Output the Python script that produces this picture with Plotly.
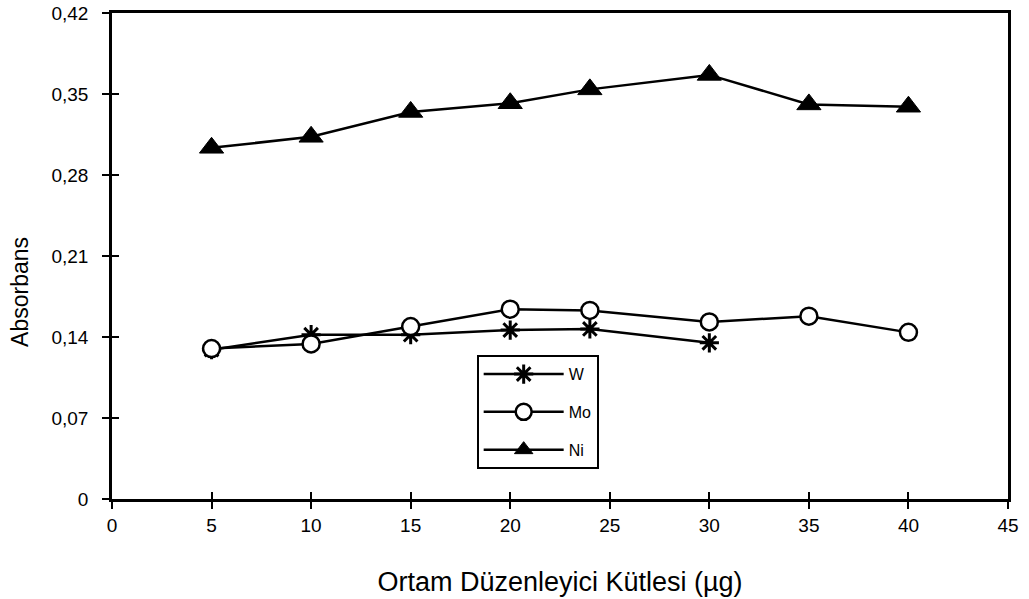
import plotly.graph_objects as go

x_all = [5, 10, 15, 20, 24, 30, 35, 40]
x_w = [5, 10, 15, 20, 24, 30]
w_vals = [0.129, 0.142, 0.142, 0.146, 0.147, 0.135]
mo_vals = [0.130, 0.134, 0.149, 0.164, 0.163, 0.153, 0.158, 0.144]
ni_vals = [0.3035, 0.313, 0.3345, 0.342, 0.354, 0.3665, 0.341, 0.339]

y_tickvals = [0, 0.07, 0.14, 0.21, 0.28, 0.35, 0.42]
y_ticktext = ["0", "0,07", "0,14", "0,21", "0,28", "0,35", "0,42"]
x_tickvals = [0, 5, 10, 15, 20, 25, 30, 35, 40, 45]

FONT = "Liberation Sans, Arial, sans-serif"

fig = go.Figure()
fig.add_trace(go.Scatter(
    x=x_w, y=w_vals, name="W", mode="lines+markers", legendgroup="a",
    line=dict(color="black", width=2.5),
    marker=dict(symbol="asterisk-open", size=16, color="black",
                line=dict(color="black", width=3)),
))
fig.add_trace(go.Scatter(
    x=x_all, y=mo_vals, name="Mo", mode="lines+markers", legendgroup="b",
    line=dict(color="black", width=2.5),
    marker=dict(symbol="circle", size=17, color="white",
                line=dict(color="black", width=2.5)),
))
fig.add_trace(go.Scatter(
    x=x_all, y=ni_vals, name="Ni", mode="lines+markers", legendgroup="c",
    line=dict(color="black", width=2.5),
    marker=dict(symbol="triangle-up", size=21, color="black",
                line=dict(color="black", width=1)),
))

axis_common = dict(showgrid=False, zeroline=False, showline=True,
                   linecolor="black", linewidth=2.5, mirror=True,
                   ticks="outside", ticklen=7, tickwidth=2, tickcolor="black",
                   automargin=False)

fig.update_layout(
    width=1029, height=599,
    margin=dict(l=112, r=21, t=13, b=100),
    paper_bgcolor="white", plot_bgcolor="white",
    font=dict(family=FONT, size=19, color="black"),
    showlegend=True,
    legend=dict(x=0.407, y=0.296, xanchor="left", yanchor="top",
                bordercolor="black", borderwidth=2, bgcolor="white",
                font=dict(family=FONT, size=16, color="black"),
                traceorder="grouped", tracegroupgap=14,
                itemwidth=80),
    xaxis=dict(range=[0, 45], tickvals=x_tickvals,
               title=dict(text="Ortam Düzenleyici Kütlesi (µg)",
                          font=dict(family=FONT, size=27), standoff=38),
               tickfont=dict(family=FONT, size=19), **axis_common),
    yaxis=dict(range=[0, 0.42], tickvals=y_tickvals, ticktext=y_ticktext,
               ticklabelstandoff=10,
               tickfont=dict(family=FONT, size=19), **axis_common),
    xaxis2=dict(range=[0, 45], tickvals=x_tickvals, overlaying="x",
                showticklabels=False, showgrid=False, zeroline=False,
                ticks="inside", ticklen=7, tickwidth=2, tickcolor="black",
                showline=False),
    yaxis2=dict(range=[0, 0.42], tickvals=y_tickvals, overlaying="y",
                showticklabels=False, showgrid=False, zeroline=False,
                ticks="inside", ticklen=7, tickwidth=2, tickcolor="black",
                showline=False),
    annotations=[dict(text="Absorbans", textangle=-90, showarrow=False,
                      xref="paper", yref="paper", x=-0.1027, y=0.426,
                      xanchor="center", yanchor="middle",
                      font=dict(family=FONT, size=23, color="black"))],
)
# invisible trace to activate the inside-tick overlay axes
fig.add_trace(go.Scatter(x=[None], y=[None], xaxis="x2", yaxis="y2",
                         showlegend=False, hoverinfo="skip"))

fig.write_html("out.html")
